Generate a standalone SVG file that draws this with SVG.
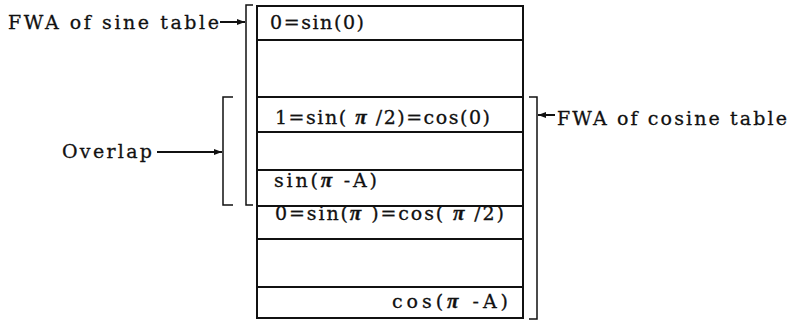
<svg xmlns="http://www.w3.org/2000/svg" width="796" height="324" viewBox="0 0 796 324">
  <style>
    .cell { fill: none; stroke: #111; stroke-width: 2; }
    .rule { stroke: #111; stroke-width: 2; }
    .brk { fill: none; stroke: #111; stroke-width: 1.5; }
    .lead { stroke: #111; stroke-width: 2; }
    text { font-family: "DejaVu Serif", "Liberation Serif", serif; font-size: 19px; fill: #111; stroke: #111; stroke-width: 0.3; }
    .pi { font-family: "Liberation Serif", "DejaVu Serif", serif; font-style: italic; font-weight: bold; font-size: 21px; }
  </style>
  <defs>
    <marker id="tip" markerWidth="9" markerHeight="7" refX="8" refY="3.5" orient="auto" markerUnits="userSpaceOnUse">
      <path d="M0,0.5 L8,3.5 L0,6.5 Z" fill="#111"/>
    </marker>
  </defs>
  <rect width="796" height="324" fill="#fff"/>

  <!-- memory table: one word per row -->
  <g id="table">
    <rect class="cell" x="257" y="6" width="266" height="312"/>
    <line class="rule" x1="257" y1="40" x2="523" y2="40"/>
    <line class="rule" x1="257" y1="97" x2="523" y2="97"/>
    <line class="rule" x1="257" y1="132" x2="523" y2="132"/>
    <line class="rule" x1="257" y1="170" x2="523" y2="170"/>
    <line class="rule" x1="257" y1="206" x2="523" y2="206"/>
    <line class="rule" x1="257" y1="239" x2="523" y2="239"/>
    <line class="rule" x1="257" y1="287" x2="523" y2="287"/>
  </g>

  <g id="row-sin0">
    <text x="270" y="29" textLength="94" lengthAdjust="spacing">0=sin(0)</text>
  </g>
  <g id="row-sin-half-pi">
    <text x="275" y="124" textLength="215" lengthAdjust="spacing">1=sin( <tspan class="pi">π</tspan> /2)=cos(0)</text>
  </g>
  <g id="row-sin-pi-minus-a">
    <text x="274" y="187" textLength="103" lengthAdjust="spacing">sin(<tspan class="pi">π</tspan> -A)</text>
  </g>
  <g id="row-sin-pi">
    <text x="275" y="220" textLength="229" lengthAdjust="spacing">0=sin(<tspan class="pi">π</tspan> )=cos( <tspan class="pi">π</tspan> /2)</text>
  </g>
  <g id="row-cos-pi-minus-a">
    <text x="392" y="308" textLength="116" lengthAdjust="spacing">cos(<tspan class="pi">π</tspan> -A)</text>
  </g>

  <!-- range brackets -->
  <g id="sine-range">
    <path class="brk" d="M253,5 H246 V205 H253"/>
    <text x="8" y="29" textLength="211" lengthAdjust="spacing">FWA of sine table</text>
  </g>
  <g id="overlap-range">
    <path class="brk" d="M233,97 H223 V205 H233"/>
    <text x="62" y="158" textLength="90" lengthAdjust="spacing">Overlap</text>
  </g>
  <g id="cosine-range">
    <path class="brk" d="M529,97 H537 V319 H529"/>
    <text x="557" y="125" textLength="230" lengthAdjust="spacing">FWA of cosine table</text>
  </g>

  <!-- leader arrows -->
  <g id="connectors">
    <line class="lead" x1="220" y1="22" x2="245" y2="22" marker-end="url(#tip)"/>
    <line class="lead" x1="157" y1="152" x2="222" y2="152" marker-end="url(#tip)"/>
    <line class="lead" x1="555" y1="115" x2="538" y2="115" marker-end="url(#tip)"/>
  </g>
</svg>
